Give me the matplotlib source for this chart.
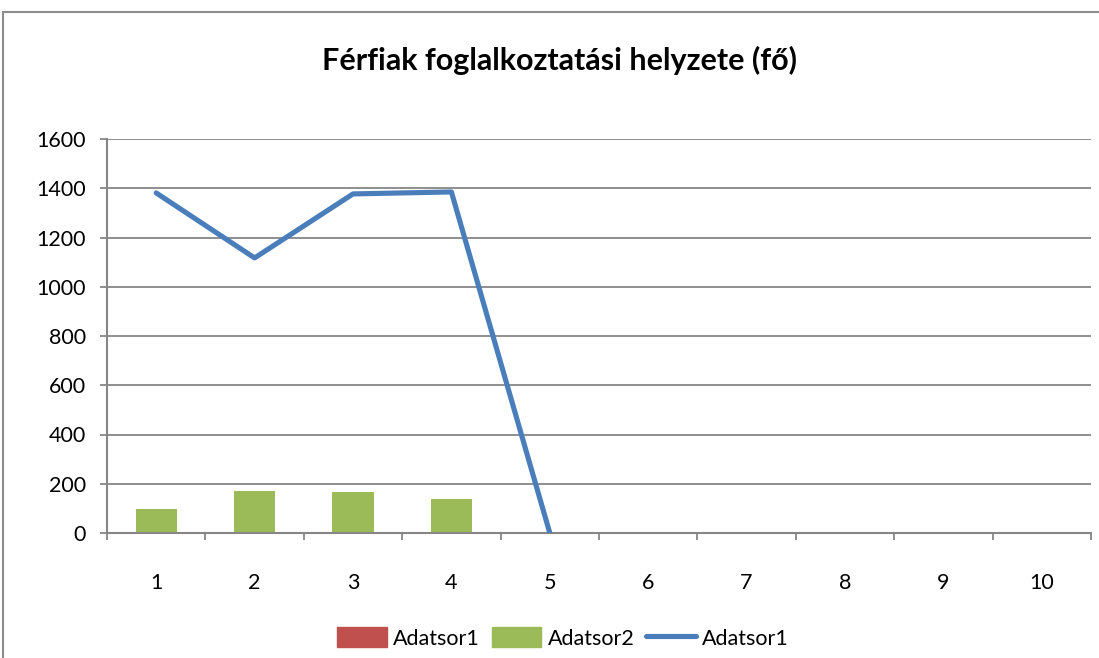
import numpy as np
import matplotlib.pyplot as plt
from matplotlib.patches import Rectangle
from matplotlib.lines import Line2D

# values
categories = [1, 2, 3, 4, 5, 6, 7, 8, 9, 10]
bars_red = [0, 0, 0, 0, 0, 0, 0, 0, 0, 0]
bars_green = [97, 171, 166, 138, 0, 0, 0, 0, 0, 0]
line_blue = [1381, 1117, 1377, 1385, 0, np.nan, np.nan, np.nan, np.nan, np.nan]
yticks = [0, 200, 400, 600, 800, 1000, 1200, 1400, 1600]

plt.rcParams['font.family'] = ['Lato', 'DejaVu Sans']

W, H = 1099, 658
fig = plt.figure(figsize=(W / 100, H / 100), dpi=100)

# outer chart frame (cut off at right and bottom like the original)
fig.patches.append(Rectangle((3 / W, -0.1), 1.2, 1.1 - 12 / H, transform=fig.transFigure,
                             fill=False, edgecolor='#8c8c8c', linewidth=1.5))

ax = fig.add_axes([107 / W, 1 - 533 / H, (1091 - 107) / W, (533 - 139) / H])

x = np.array(categories)
ax.bar(x, bars_red, width=0.42, color='#C0504D', zorder=2)
ax.bar(x, bars_green, width=0.42, color='#9BBB59', zorder=2)
ax.plot(x, line_blue, color='#4A7EBB', linewidth=3.7, zorder=3, solid_capstyle='round')

ax.set_xlim(0.5, 10.5)
ax.set_ylim(0, 1600)
ax.set_yticks(yticks)
ax.set_xticks(x)
ax.set_xticks(np.arange(0.5, 11, 1), minor=True)
ax.yaxis.grid(True, color='#868686', linewidth=1.3, zorder=0)
ax.set_axisbelow(True)

for s in ['top', 'right']:
    ax.spines[s].set_visible(False)
for s in ['left', 'bottom']:
    ax.spines[s].set_color('#868686')
    ax.spines[s].set_linewidth(1.5)

ax.tick_params(axis='y', length=5, width=1.3, color='#868686', pad=10, labelsize=15.5)
ax.tick_params(axis='x', which='major', length=0, pad=29, labelsize=15.5)
ax.tick_params(axis='x', which='minor', length=5, width=1.3, color='#868686')

fig.text(560 / W, 1 - 60 / H, 'Férfiak foglalkoztatási helyzete (fő)', ha='center', va='center',
         fontsize=22, fontweight='bold')

handles = [Rectangle((0, 0), 1, 1, color='#C0504D'),
           Rectangle((0, 0), 1, 1, color='#9BBB59'),
           Line2D([0], [0], color='#4A7EBB', linewidth=3.7, solid_capstyle='round')]
fig.legend(handles, ['Adatsor1', 'Adatsor2', 'Adatsor1'], loc='center',
           bbox_to_anchor=(563 / W, 1 - 638 / H), ncol=3, frameon=False,
           fontsize=15.5, handlelength=2.3, handleheight=1.0, handletextpad=0.3,
           columnspacing=0.55, borderpad=0.2)

fig.savefig('out.png', dpi=100)
